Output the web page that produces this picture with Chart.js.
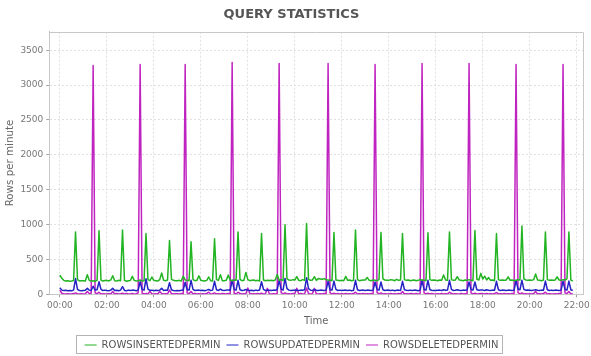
<!DOCTYPE html>
<html><head><meta charset="utf-8">
<script src="https://cdn.jsdelivr.net/npm/chart.js@4"></script>
<style>html,body{margin:0;padding:0;background:#fff;overflow:hidden}canvas{display:block}</style>
</head><body>
<canvas id="c" width="591" height="356"></canvas>
<script>
// ---- data (5-minute samples starting 00:00) ----
const startMinute = 0;
const stepMinutes = 5;
const seriesNames = ["ROWSINSERTEDPERMIN", "ROWSUPDATEDPERMIN", "ROWSDELETEDPERMIN"];
const rowsInserted = [
 275,230,200,190,195,188,192,198,895,210,192,196,
 195,190,280,200,190,195,188,200,910,205,190,198,
 200,192,205,266,195,190,200,195,922,200,188,195,
 198,257,200,192,195,205,190,195,871,210,195,248,
 200,195,190,210,305,200,195,205,770,215,200,195,
 195,200,190,260,205,200,195,752,210,195,200,265,
 200,195,190,200,248,195,190,795,210,200,280,195,
 195,200,275,200,195,205,200,895,215,195,200,314,
 210,195,200,205,195,200,190,871,205,195,200,198,
 200,195,205,285,200,210,195,999,220,205,200,210,
 205,252,200,195,210,200,1014,215,200,205,252,200,
 225,220,215,225,210,205,200,195,885,205,200,195,
 200,195,257,200,205,195,200,923,210,195,200,205,
 205,242,200,195,205,200,195,210,885,220,205,200,
 200,210,205,195,215,200,205,871,210,200,205,195,
 200,205,195,200,210,205,200,195,882,210,200,205,
 200,195,205,200,276,205,200,895,210,200,205,252,
 205,200,195,205,200,210,200,195,914,215,205,300,
 220,260,205,240,200,205,195,871,210,200,205,200,
 205,250,200,205,195,200,210,205,980,220,205,200,
 205,200,210,290,205,200,195,205,895,210,200,205,
 200,205,250,205,200,210,205,220,895,205,190
];
const rowsUpdated = [
 95,60,55,58,52,55,50,60,225,70,55,52,
 55,58,85,60,55,115,60,65,180,70,55,60,
 55,52,60,85,55,58,50,60,110,55,52,60,
 55,60,58,52,60,180,70,60,223,75,55,60,
 52,58,55,60,85,55,60,58,166,65,55,52,
 55,50,58,62,172,65,60,200,70,55,58,60,
 55,58,52,60,70,55,60,186,65,55,75,58,
 55,60,62,58,204,70,60,200,65,55,58,70,
 60,55,58,52,60,55,62,180,70,55,60,58,
 55,60,58,65,200,75,60,228,80,60,55,58,
 58,60,55,60,58,65,238,80,60,55,70,58,
 55,60,58,55,60,190,65,60,190,70,55,60,
 55,58,60,55,60,52,58,200,65,55,58,60,
 55,60,58,55,60,176,70,60,176,65,55,60,
 58,55,60,52,58,60,55,186,65,58,55,60,
 55,60,58,52,60,200,70,60,200,65,58,55,
 55,58,60,55,65,58,60,200,70,55,58,65,
 58,55,60,58,60,176,70,60,176,65,58,60,
 60,55,65,58,55,60,58,186,65,55,60,58,
 55,60,58,55,60,200,75,65,200,70,58,60,
 58,55,60,65,58,55,60,58,190,65,55,60,
 55,60,58,55,60,190,70,60,190,65,55
];
const rowsDeleted = [
 60,15,5,5,8,5,5,10,20,5,5,8,
 5,8,40,10,15,3280,20,8,30,5,8,5,
 5,8,5,40,5,10,5,8,15,5,10,5,
 5,10,5,8,20,3295,15,5,10,5,40,8,
 5,8,5,40,10,5,8,5,60,10,5,8,
 8,5,10,5,3295,20,8,40,5,10,5,8,
 5,8,5,10,30,5,8,20,5,8,5,10,
 8,5,10,5,3325,15,5,30,10,5,8,5,
 90,10,5,8,5,10,5,15,5,8,85,5,
 5,8,5,10,3310,25,5,20,5,8,5,10,
 8,85,5,10,5,8,90,10,5,8,85,5,
 5,8,5,10,8,3310,20,5,15,5,10,5,
 8,5,10,5,8,5,10,30,5,8,5,10,
 5,8,5,10,5,3295,25,5,20,5,8,5,
 5,10,5,8,5,10,5,40,5,8,5,10,
 8,5,10,5,8,3310,20,5,15,5,10,5,
 5,8,5,10,5,8,5,30,10,5,8,5,
 5,10,5,8,5,3310,20,5,15,5,8,10,
 8,5,10,5,8,5,10,25,5,8,5,10,
 5,8,5,10,5,3295,25,5,20,5,8,5,
 8,5,10,40,5,8,5,10,30,5,8,5,
 5,8,5,10,5,3295,20,10,40,5,8
];
const xTickLabels = ["00:00","02:00","04:00","06:00","08:00","10:00","12:00","14:00","16:00","18:00","20:00","22:00"];
const yTickValues = [0,500,1000,1500,2000,2500,3000,3500];

// ---- build ----
const toPoints = arr => arr.map((v, i) => ({x: startMinute + i * stepMinutes, y: v}));
const FONT = "'DejaVu Sans', sans-serif";
Chart.defaults.font.family = FONT;

const framePlugin = {
  id: 'framePlugin',
  afterLayout(chart) {
    const lg = chart.legend;
    if (lg) { lg.top += 4; lg.bottom += 4; }
  },
  beforeDatasetsDraw(chart) {
    const a = chart.chartArea, ctx = chart.ctx;
    ctx.save();
    ctx.setLineDash([]);
    ctx.strokeStyle = '#c8c8c8';
    ctx.lineWidth = 1;
    ctx.beginPath();
    ctx.moveTo(Math.round(a.left) + 0.5, Math.round(a.top) + 0.5);
    ctx.lineTo(Math.round(a.right) + 0.5, Math.round(a.top) + 0.5);
    ctx.lineTo(Math.round(a.right) + 0.5, Math.round(a.bottom) + 0.5);
    ctx.moveTo(Math.round(a.left) + 0.5, Math.round(a.top) + 0.5);
    ctx.lineTo(Math.round(a.left) + 0.5, Math.round(a.bottom) + 0.5);
    ctx.lineTo(Math.round(a.right) + 0.5, Math.round(a.bottom) + 0.5);
    ctx.stroke();
    ctx.restore();
  },
  afterDraw(chart) {
    const lg = chart.legend;
    if (!lg || !lg.legendHitBoxes || !lg.legendHitBoxes.length) return;
    const hb = lg.legendHitBoxes;
    const first = hb[0], last = hb[hb.length - 1];
    const cy = first.top + first.height / 2;
    const l = Math.round(first.left - 9) + 0.5;
    const r = Math.round(last.left + last.width + 4) + 0.5;
    const t = Math.round(cy - 10) + 0.5;
    const b = Math.round(cy + 8) + 0.5;
    const ctx = chart.ctx;
    ctx.save();
    ctx.setLineDash([]);
    ctx.strokeStyle = '#b4b4b4';
    ctx.lineWidth = 1;
    ctx.strokeRect(l, t, r - l, b - t);
    ctx.restore();
  }
};

const fmt = v => {
  const h = Math.floor(v / 60), m = v % 60;
  return String(h).padStart(2, '0') + ':' + String(m).padStart(2, '0');
};

new Chart(document.getElementById('c'), {
  type: 'line',
  data: {
    datasets: [
      {label: seriesNames[0], data: toPoints(rowsInserted), borderColor: '#22b422', backgroundColor: '#22b422'},
      {label: seriesNames[1], data: toPoints(rowsUpdated), borderColor: '#2424c4', backgroundColor: '#2424c4'},
      {label: seriesNames[2], data: toPoints(rowsDeleted), borderColor: '#c024c0', backgroundColor: '#c024c0'}
    ]
  },
  options: {
    responsive: false,
    animation: false,
    devicePixelRatio: 1,
    elements: {
      point: {radius: 0, hoverRadius: 0},
      line: {borderWidth: 1.5, tension: 0, borderJoinStyle: 'round', fill: false}
    },
    layout: {padding: {top: 0, left: 0, right: 8, bottom: 0}},
    plugins: {
      title: {
        display: true, text: 'QUERY STATISTICS', color: '#555555',
        font: {family: FONT, size: 13, weight: 'bold'},
        padding: {top: 6.7, bottom: 9.4}
      },
      legend: {
        position: 'bottom',
        labels: {
          usePointStyle: true, pointStyle: 'line', pointStyleWidth: 12, boxHeight: 10,
          color: '#555555', font: {family: FONT, size: 10}, padding: 6
        }
      },
      tooltip: {enabled: false}
    },
    scales: {
      x: {
        type: 'linear', min: -27, max: 1336,
        afterBuildTicks: s => { s.ticks = xTickLabels.map((_, i) => ({value: i * 120})); },
        ticks: {
          callback: (v) => { const i = Math.round(v / 120); return xTickLabels[i] !== undefined ? xTickLabels[i] : fmt(v); },
          autoSkip: false, maxRotation: 0, color: '#777777',
          font: {family: FONT, size: 9}, padding: 3
        },
        grid: {color: '#e0e0e0', tickLength: 3, tickColor: '#a0a0a0', tickBorderDash: [], drawTicks: true},
        border: {display: true, color: '#c0c0c0', width: 1, dash: [2, 2]},
        title: {display: true, text: 'Time', color: '#666666', font: {family: FONT, size: 10}, padding: {top: 0, bottom: 3}},
        afterFit: s => { s.height = 35.7; s.paddingLeft = 0; s.paddingRight = 0; }
      },
      y: {
        type: 'linear', min: 0, max: 3766,
        afterBuildTicks: s => { s.ticks = yTickValues.map(v => ({value: v})); },
        ticks: {color: '#777777', font: {family: FONT, size: 9}, padding: 3, callback: v => String(v)},
        grid: {color: '#e0e0e0', tickLength: 3, tickColor: '#a0a0a0', tickBorderDash: []},
        border: {display: true, color: '#c0c0c0', width: 1, dash: [2, 2]},
        title: {display: true, text: 'Rows per minute', color: '#666666', font: {family: FONT, size: 10.3}, padding: {top: 4, bottom: 0}},
        afterFit: s => { s.width = 49.3; s.paddingTop = 0; s.paddingBottom = 0; }
      }
    }
  },
  plugins: [framePlugin]
});
</script>
</body></html>
